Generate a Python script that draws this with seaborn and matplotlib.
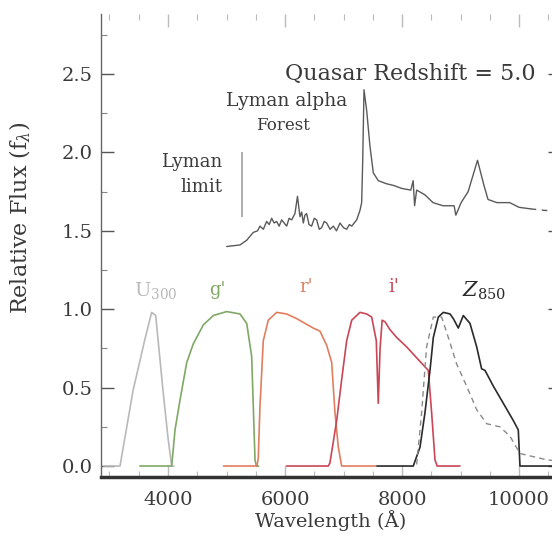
import numpy as np
import pandas as pd
import matplotlib
matplotlib.use("Agg")
import matplotlib.pyplot as plt
import seaborn as sns

# -------------------------
# Data
# -------------------------
u_wave = [2900, 3180, 3402, 3600, 3721, 3790, 3915, 4000, 4063, 4100]
u_resp = [0.0, 0.0, 0.48, 0.80, 0.98, 0.96, 0.48, 0.18, 0.0, 0.0]

g_wave = [3520, 4063, 4120, 4205, 4320, 4433, 4604, 4775, 5003, 5230,
          5345, 5430, 5458, 5487, 5510, 5550]
g_resp = [0.0, 0.0, 0.23, 0.42, 0.66, 0.78, 0.90, 0.96, 0.985, 0.97,
          0.91, 0.70, 0.38, 0.04, 0.0, 0.0]

r_wave = [4950, 5520, 5543, 5572, 5629, 5714, 5857, 6027, 6200, 6341,
          6483, 6598, 6712, 6798, 6854, 6911, 6968, 7550]
r_resp = [0.0, 0.0, 0.05, 0.38, 0.80, 0.93, 0.98, 0.97, 0.94, 0.91,
          0.88, 0.86, 0.77, 0.66, 0.34, 0.12, 0.0, 0.0]

i_wave = [6030, 6740, 6768, 6883, 6968, 7054, 7140, 7281, 7395, 7481, 7560,
          7594, 7625, 7660, 7709, 7794, 7908, 8079, 8250, 8449, 8506,
          8563, 8600, 8990]
i_resp = [0.0, 0.0, 0.02, 0.29, 0.55, 0.80, 0.93, 0.98, 0.97, 0.95, 0.80,
          0.40, 0.75, 0.93, 0.92, 0.87, 0.82, 0.76, 0.69, 0.61, 0.34,
          0.04, 0.0, 0.0]

z_wave = [7570, 8192, 8307, 8392, 8478, 8535, 8620, 8706, 8820, 8877,
          8962, 9047, 9161, 9276, 9360, 9418, 9560, 9731, 9902, 9987,
          10016, 10700]
z_resp = [0.0, 0.0, 0.12, 0.34, 0.61, 0.82, 0.95, 0.98, 0.97, 0.94,
          0.88, 0.96, 0.91, 0.76, 0.62, 0.61, 0.51, 0.40, 0.29, 0.23,
          0.0, 0.0]

zd_wave = [8250, 8335, 8420, 8535, 8677, 8791, 8934, 9104, 9275, 9446,
           9674, 9845, 10016, 10240, 10470, 10700]
zd_resp = [0.01, 0.34, 0.76, 0.95, 0.95, 0.82, 0.65, 0.51, 0.36, 0.27,
           0.25, 0.19, 0.08, 0.06, 0.04, 0.03]

qso_wave = [5003, 5230, 5345, 5458, 5530, 5572, 5630, 5686, 5730, 5772,
            5815, 5857, 5900, 5943, 5985, 6028, 6070, 6114, 6170, 6213,
            6256, 6285, 6313, 6340, 6370, 6410, 6455, 6500, 6541, 6585,
            6626, 6670, 6712, 6770, 6826, 6880, 6940, 7000, 7054, 7100,
            7140, 7225, 7281, 7310, 7327, 7350, 7395, 7452, 7509, 7594,
            7737, 7851, 8000, 8150, 8190, 8215, 8250, 8390, 8530, 8700,
            8890, 8920, 9010, 9130, 9290, 9400, 9470, 9620, 9840, 10000,
            10200]
qso_flux = [1.40, 1.41, 1.44, 1.49, 1.50, 1.53, 1.51, 1.56, 1.54, 1.58,
            1.55, 1.56, 1.53, 1.57, 1.55, 1.53, 1.58, 1.57, 1.61, 1.72,
            1.59, 1.62, 1.55, 1.60, 1.61, 1.54, 1.53, 1.58, 1.57, 1.51,
            1.52, 1.56, 1.55, 1.51, 1.53, 1.50, 1.55, 1.52, 1.51, 1.54,
            1.53, 1.57, 1.63, 1.68, 1.93, 2.40, 2.27, 2.04, 1.87, 1.82,
            1.80, 1.79, 1.77, 1.76, 1.82, 1.66, 1.76, 1.73, 1.68, 1.66,
            1.66, 1.60, 1.68, 1.75, 1.95, 1.79, 1.70, 1.68, 1.68, 1.65,
            1.64]
qso_tail_wave = [10200, 10450, 10700]
qso_tail_flux = [1.64, 1.63, 1.63]

lyman_limit_wave = 5260
lyman_limit_span = [1.59, 2.0]

# -------------------------
# Style
# -------------------------
sns.set_theme(style="white")
plt.rcParams['font.family'] = ['DejaVu Serif', 'DejaVu Sans']
plt.rcParams['mathtext.fontset'] = 'dejavuserif'

text_col = "#3a3a3a"
colors = {"u": "#b9b9b9", "g": "#7fa865", "r": "#e07e5e",
          "i": "#c94656", "z": "#2a2a2a", "qso": "#5a5a5a"}

fig = plt.figure(figsize=(5.52, 5.37), dpi=100)
ax = fig.add_axes([101 / 552, 1 - 477 / 537, 459 / 552, 463 / 537])

# -------------------------
# Filter curves
# -------------------------
curves = [(u_wave, u_resp, colors["u"]),
          (g_wave, g_resp, colors["g"]),
          (r_wave, r_resp, colors["r"]),
          (i_wave, i_resp, colors["i"]),
          (z_wave, z_resp, colors["z"])]
for w, f, c in curves:
    sns.lineplot(x=w, y=f, color=c, lw=1.2, sort=False, estimator=None, ax=ax)

sns.lineplot(x=zd_wave, y=zd_resp, color="#8a8a8a", lw=1.0, sort=False,
             estimator=None, ax=ax, linestyle=(0, (4, 3)))

# quasar spectrum
sns.lineplot(x=qso_wave, y=qso_flux, color=colors["qso"], lw=1.0, sort=False,
             estimator=None, ax=ax)
sns.lineplot(x=qso_tail_wave, y=qso_tail_flux, color=colors["qso"], lw=1.0,
             sort=False, estimator=None, ax=ax, linestyle=(0, (4, 4)))

ax.vlines(lyman_limit_wave, lyman_limit_span[0], lyman_limit_span[1],
          color="#a0a0a0", lw=1.2)

# -------------------------
# Annotations
# -------------------------
ax.text(6000, 2.5, "Quasar Redshift = 5.0", fontsize=16, color=text_col,
        va="center", ha="left")
ax.text(6020, 2.33, "Lyman alpha", fontsize=13.5, color=text_col,
        ha="center", va="center")
ax.text(5960, 2.17, "Forest", fontsize=12, color=text_col,
        ha="center", va="center")
ax.text(4930, 1.94, "Lyman", fontsize=13, color=text_col,
        ha="right", va="center")
ax.text(4930, 1.78, "limit", fontsize=13, color=text_col,
        ha="right", va="center")

ax.text(3420, 1.12, "U$_{300}$", fontsize=14, color=colors["u"], va="center")
ax.text(4700, 1.12, "g'", fontsize=13, color=colors["g"], va="center")
ax.text(6240, 1.14, "r'", fontsize=13, color=colors["r"], va="center")
ax.text(7760, 1.14, "i'", fontsize=13, color=colors["i"], va="center")
ax.text(9020, 1.12, "$\\mathit{Z}_{850}$", fontsize=15, color=colors["z"],
        va="center", fontweight="bold")

# -------------------------
# Axes
# -------------------------
ax.set_xlim(2855, 10700)
ax.set_ylim(-0.07, 2.883)

ax.set_xticks([4000, 6000, 8000, 10000])
ax.set_xticks(np.arange(3000, 10701, 500), minor=True)
ax.set_yticks([0.0, 0.5, 1.0, 1.5, 2.0, 2.5])
ax.set_yticks(np.arange(0.25, 2.8, 0.5), minor=True)
ax.set_yticklabels(["0.0", "0.5", "1.0", "1.5", "2.0", "2.5"])

ax.tick_params(axis="both", which="major", direction="in", length=9,
               width=1.0, color="#555555", labelsize=14, labelcolor=text_col)
ax.tick_params(axis="both", which="minor", direction="in", length=4,
               width=0.8, color="#888888")
ax.tick_params(axis="x", which="both", top=True, bottom=True, pad=10)
ax.tick_params(axis="x", which="both", top=True, color="#bbbbbb")
ax.tick_params(axis="y", which="both", left=True, right=True, pad=6)

ax.set_xlabel("Wavelength (Å)", fontsize=14, color=text_col, labelpad=1)
ax.set_ylabel("Relative Flux (f$_\\lambda$)", fontsize=16, color=text_col)
ax.yaxis.set_label_coords(-0.148, 0.56)

for side in ["top", "right"]:
    ax.spines[side].set_visible(False)
ax.spines["left"].set_color("#666666")
ax.spines["left"].set_linewidth(1.0)
ax.spines["bottom"].set_color("#333333")
ax.spines["bottom"].set_linewidth(2.5)

fig.savefig("out.png", dpi=100)
plt.close(fig)
